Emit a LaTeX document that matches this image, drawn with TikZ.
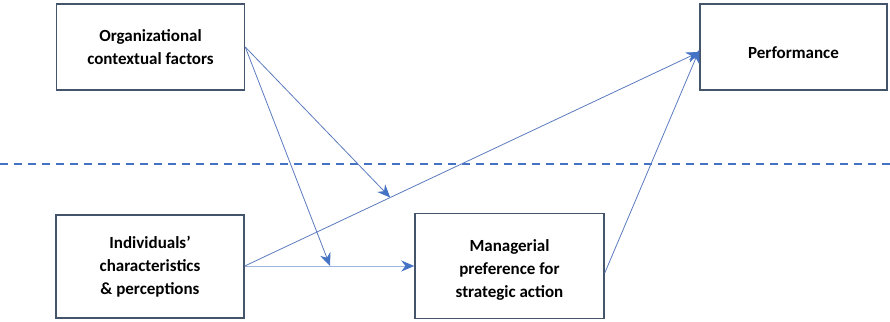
\documentclass[tikz,border=0pt]{standalone}
\usepackage{fontspec}
\setmainfont{Carlito}
\usetikzlibrary{arrows.meta}
\definecolor{boxline}{HTML}{44546A}
\definecolor{arrblue}{HTML}{4472C4}
\definecolor{lineblue}{HTML}{5B7BBE}
\definecolor{lightblue}{HTML}{9DB5E0}
\tikzset{
  box/.style={draw=boxline, line width=1.5pt, align=center, font=\fontsize{17}{23}\selectfont\bfseries, inner sep=0pt},
  boxtext/.style={align=center, font=\fontsize{17}{23}\selectfont\bfseries, inner sep=0pt},
  conn/.style={draw=lineblue, line width=0.8pt, -{Stealth[length=13pt,width=11pt,fill=arrblue,color=arrblue]}},
}
\begin{document}
\begin{tikzpicture}[x=1pt,y=-1pt]
\useasboundingbox (0,0) rectangle (890,321);
\node[box, minimum width=188pt, minimum height=86pt] (org) at (150.5,47) {Organizational\\contextual factors};
\node[box, minimum width=188pt, minimum height=103pt] (ind) at (150,266.5) {Individuals’\\characteristics\\\& perceptions};
\node[box, minimum width=189pt, minimum height=105pt] (mgr) at (509.5,266) {};
\node[boxtext] (mgrtext) at (509.5,270) {Managerial\\preference for\\strategic action};
\node[box, minimum width=187pt, minimum height=86pt] (perf) at (793.5,47) {};
\node[boxtext] (perftext) at (793.5,53) {Performance};
\draw[arrblue, dashed, dash pattern=on 8pt off 6pt, line width=1.3pt] (0,164) coordinate (dl) -- (890,164) coordinate (dr);
\coordinate (ie) at (ind.east |- 0,266);
\coordinate (pw) at (perf.west |- 0,52);
\coordinate (me) at (mgr.east |- 0,273);
\coordinate (oe) at (org.east);
\draw[conn, draw=lightblue] (ie) -- (mgr.west |- ie) coordinate[pos=0.503] (m1);
\draw[conn] (ie) -- (pw) coordinate[pos=0.32] (m2);
\draw[conn] (me) -- ([yshift=2pt]pw);
\draw[conn] (oe) -- (m2);
\draw[conn] (oe) -- (m1);
\end{tikzpicture}
\end{document}
